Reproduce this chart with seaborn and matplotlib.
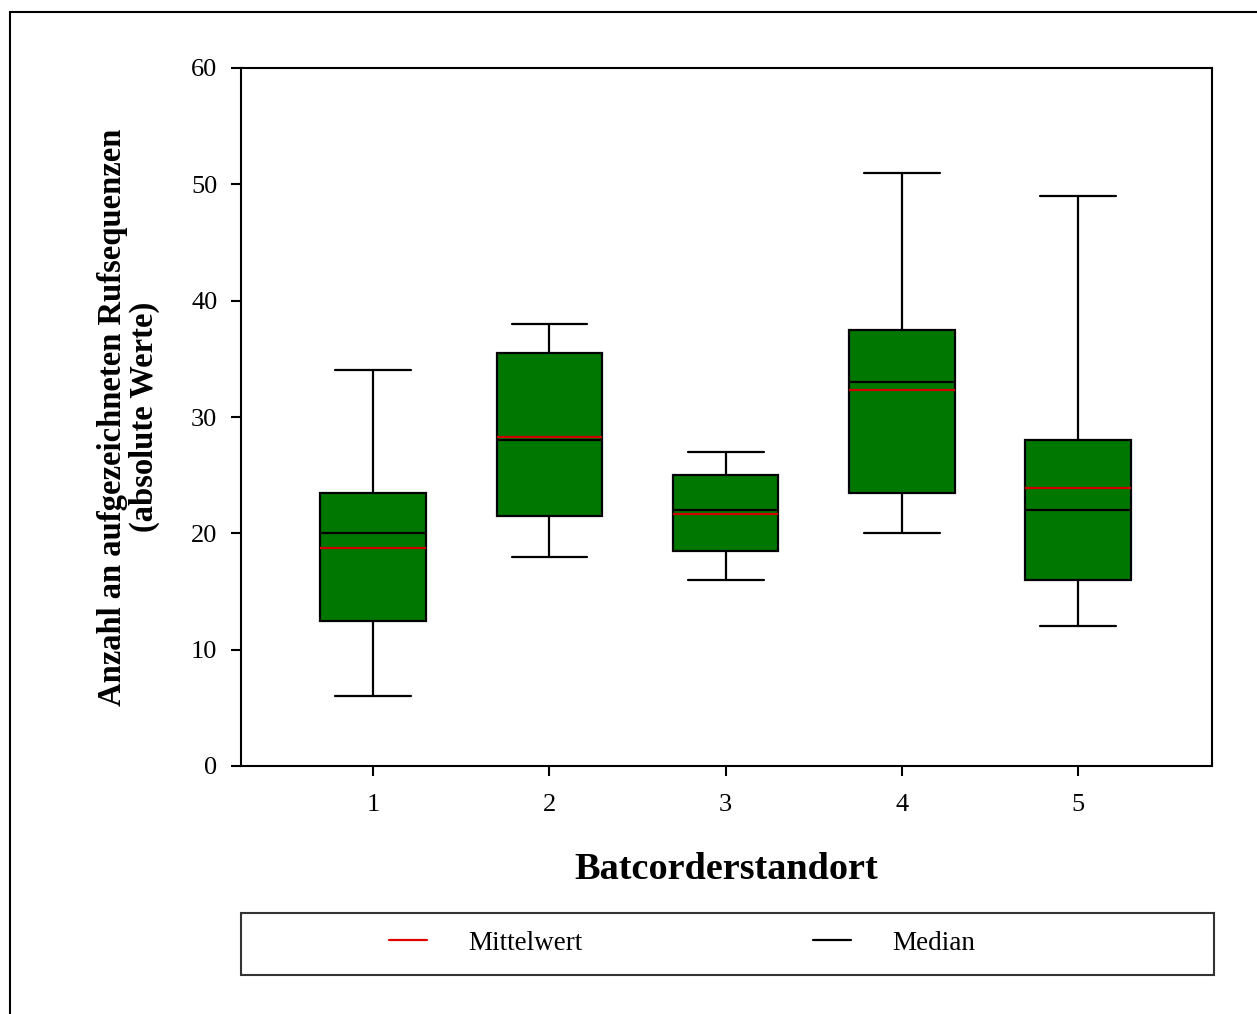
import matplotlib
matplotlib.use("Agg")
import matplotlib.pyplot as plt
import seaborn as sns
from matplotlib.lines import Line2D
from matplotlib.patches import Rectangle

sns.set_style("ticks")
plt.rcParams['font.family'] = ['Liberation Serif', 'DejaVu Serif']
plt.rcParams['text.color'] = 'black'
plt.rcParams['axes.labelcolor'] = 'black'
plt.rcParams['xtick.color'] = 'black'
plt.rcParams['ytick.color'] = 'black'

# Data
categories = ["1", "2", "3", "4", "5"]
whisker_low = [6, 18, 16, 20, 12]
q1 = [12.5, 21.5, 18.5, 23.5, 16]
medians = [20, 28, 22, 33, 22]
means = [18.7, 28.3, 21.7, 32.3, 23.9]
q3 = [23.5, 35.5, 25, 37.5, 28]
whisker_high = [34, 38, 27, 51, 49]

stats = []
for i, c in enumerate(categories):
    stats.append(dict(label=c, whislo=whisker_low[i], q1=q1[i], med=medians[i],
                      mean=means[i], q3=q3[i], whishi=whisker_high[i], fliers=[]))

W, H = 1257, 1014
fig = plt.figure(figsize=(W / 100, H / 100), dpi=100)
ax = fig.add_axes([241 / W, 1 - 766 / H, (1212 - 241) / W, (766 - 68) / H])

ax.bxp(stats, positions=range(1, len(categories) + 1), widths=0.6, capwidths=0.43,
       patch_artist=True, showmeans=True, meanline=True, showfliers=False,
       boxprops=dict(facecolor="#007800", edgecolor="black", linewidth=1.6),
       medianprops=dict(color="black", linewidth=1.6),
       meanprops=dict(color="#d00000", linestyle="-", linewidth=1.6),
       whiskerprops=dict(color="black", linewidth=1.6),
       capprops=dict(color="black", linewidth=1.6))

ax.set_xlim(0.25, 5.76)
ax.set_ylim(0, 60)
ax.set_yticks([0, 10, 20, 30, 40, 50, 60])
ax.set_xticks(range(1, 6))
ax.set_xticklabels(categories)
for s in ax.spines.values():
    s.set_visible(True)
    s.set_linewidth(1.5)
    s.set_color("black")
ax.tick_params(direction="out", length=7, width=1.5, labelsize=19, colors="black")
ax.tick_params(axis="x", pad=13)
ax.tick_params(axis="y", pad=10)
ax.set_xlabel("Batcorderstandort", fontsize=27.5, fontweight="bold", labelpad=26)
ax.set_ylabel("Anzahl an aufgezeichneten Rufsequenzen\n(absolute Werte)", fontsize=23.5,
              fontweight="bold", labelpad=22, linespacing=1.05)

# legend
handles = [Line2D([], [], color="#e00000", linewidth=1.6),
           Line2D([], [], color="black", linewidth=1.6)]
fig.legend(handles, ["Mittelwert", "Median"], loc="center left",
           bbox_to_anchor=(365 / W, 1 - 943 / H), ncol=2, frameon=False, fontsize=19.5,
           handlelength=1.4, handletextpad=1.52, columnspacing=8.5)
fig.patches.append(Rectangle((241 / W, 1 - 975 / H), (1214 - 241) / W, (975 - 913) / H,
                             transform=fig.transFigure, fill=False, edgecolor="#333333",
                             linewidth=1.5))
# outer frame
fig.patches.append(Rectangle((10 / W, -0.1), 1.2, 1 - 12 / H + 0.1,
                             transform=fig.transFigure, fill=False, edgecolor="black",
                             linewidth=1.5))

fig.savefig("out.png", dpi=100)
